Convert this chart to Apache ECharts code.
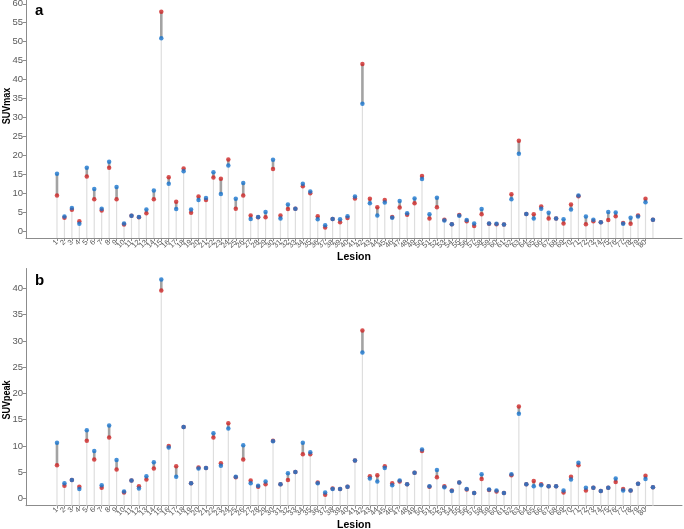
<!DOCTYPE html>
<html>
<head>
<meta charset="utf-8">
<script src="https://cdn.jsdelivr.net/npm/echarts@6/dist/echarts.min.js"></script>
<style>html,body{margin:0;padding:0;background:#fff;}#c{width:684px;height:529px;}</style>
</head>
<body>
<div id="c"></div>
<script>
var lesions = ['1','2','3','4','5','6','7','8','9','10','11','12','13','14','15','16','17','18','19','20','21','22','23','24','25','26','27','28','29','30','31','32','33','34','35','36','37','38','39','40','41','42','43','44','45','46','47','48','49','50','51','52','53','54','55','56','57','58','59','60','61','62','63','64','65','66','67','68','69','70','71','72','73','74','75','76','77','78','79','80','81'];

var suvmaxRed = [9.4,3.5,5.6,2.6,14.4,8.4,5.4,16.7,8.4,1.7,4.0,3.6,4.7,8.4,57.9,14.2,7.7,16.5,4.8,9.1,8.2,14.1,13.8,18.9,5.9,9.4,4.1,3.6,3.6,16.4,4.1,5.8,5.9,11.8,10.0,3.9,0.9,3.2,2.3,3.4,8.6,44.1,8.5,6.3,8.2,3.7,6.2,4.3,7.3,14.5,3.3,6.3,3.0,1.8,4.2,2.6,1.3,4.4,1.9,1.8,1.7,9.7,23.8,4.5,4.4,6.5,3.3,3.3,2.0,7.0,9.2,1.8,2.6,2.3,2.9,3.9,2.1,1.9,4.1,8.5,3.0];
var suvmaxBlue = [15.1,3.8,6.1,1.9,16.7,11.1,5.9,18.3,11.6,2.0,4.0,3.7,5.7,10.7,50.9,12.5,5.8,15.8,5.7,8.2,8.7,15.5,9.8,17.3,8.5,12.7,3.2,3.7,5.0,18.8,3.3,7.0,5.9,12.5,10.4,3.1,1.5,3.2,3.1,3.9,9.1,33.6,7.3,4.1,7.5,3.5,7.9,4.7,8.6,13.7,4.4,8.8,2.8,1.8,4.0,2.9,2.0,5.8,2.0,1.9,1.7,8.4,20.4,4.5,3.3,5.9,4.8,3.3,3.1,5.7,9.4,3.8,3.0,2.3,5.0,4.9,1.9,3.5,3.8,7.6,3.0];

var suvpeakRed = [6.3,2.4,3.5,2.2,11.0,7.4,2.0,11.6,5.5,1.1,3.4,2.3,3.6,5.7,39.6,10.0,6.1,13.6,2.9,5.9,5.8,11.6,6.7,14.3,4.0,7.4,3.4,2.2,2.7,11.0,2.7,3.5,5.0,8.4,8.4,3.0,0.7,1.9,1.8,2.2,7.2,32.0,4.2,4.4,6.1,2.9,3.2,2.7,4.9,9.0,2.2,4.0,2.3,1.5,3.0,1.7,1.0,3.7,1.6,1.3,1.0,4.4,17.5,2.7,3.3,2.7,2.3,2.3,1.1,4.1,6.3,1.5,2.0,1.4,2.0,3.1,1.8,1.5,2.8,4.3,2.1];
var suvpeakBlue = [10.6,2.9,3.5,1.8,13.0,9.0,2.5,13.9,7.3,1.3,3.4,1.9,4.2,6.9,41.7,9.7,4.1,13.6,2.9,5.7,5.8,12.4,6.2,13.3,4.1,10.1,2.9,2.4,3.2,10.9,2.7,4.8,5.0,10.6,8.8,2.9,1.1,1.8,1.8,2.2,7.2,27.8,3.8,3.2,5.8,2.5,3.4,2.7,4.9,9.3,2.3,5.4,2.1,1.4,3.0,1.8,1.0,4.6,1.7,1.5,1.0,4.6,16.1,2.7,2.3,2.5,2.3,2.3,1.5,3.6,6.8,2.0,2.0,1.4,2.0,3.8,1.5,1.5,2.8,3.7,2.1];

var yTicksA = [0,5,10,15,20,25,30,35,40,45,50,55,60];
var yTicksB = [0,5,10,15,20,25,30,35,40];

var RED = '#CD2626', BLUE = '#1874CD';
var Y_A = [-1.85, 61];
var Y_B = [-1.4, 43.8];
var X_RANGE = [-3.16, 84.9];
var xIdx = lesions.map(function(_, i){ return i + 1; });

function pairs(a, b){
  return a.map(function(v, i){ return [i + 1, Math.min(v, b[i]), Math.max(v, b[i])]; });
}
function pts(a){ return a.map(function(v, i){ return [i + 1, v]; }); }

function makeRender(axisMin){
  return function(params, api){
    var x = api.value(0), lo = api.value(1), hi = api.value(2);
    var pB = api.coord([x, axisMin]), pL = api.coord([x, lo]), pH = api.coord([x, hi]);
    return {type:'group', children:[
      {type:'line', shape:{x1:pB[0], y1:pB[1], x2:pH[0], y2:pH[1]}, style:{stroke:'#dedede', lineWidth:1.2}},
      {type:'line', shape:{x1:pL[0], y1:pL[1], x2:pH[0], y2:pH[1]}, style:{stroke:'#a3a3a3', lineWidth:2.6}}
    ]};
  };
}

var axisGrey = '#8c8c8c';
var labelGrey = '#595959';
var FONT = 'Liberation Sans';

function xAxis(gi){
  return {
    type:'value', gridIndex:gi, min:X_RANGE[0], max:X_RANGE[1],
    name:'Lesion', nameLocation:'middle', nameGap:13.5, nameMoveOverlap:false,
    nameTextStyle:{fontFamily:FONT, fontWeight:'bold', fontSize:10.5, color:'#000'},
    axisLine:{show:true, onZero:false, lineStyle:{color:axisGrey, width:1}},
    axisTick:{show:true, length:3, customValues:xIdx, lineStyle:{color:axisGrey}},
    axisLabel:{show:true, customValues:xIdx, rotate:45, fontSize:7.5, margin:3, color:labelGrey, fontFamily:FONT, hideOverlap:false,
      formatter:function(v){ return lesions[Math.round(v) - 1] || ''; }},
    splitLine:{show:false}
  };
}
function yAxis(gi, range, ticks){
  return {
    type:'value', gridIndex:gi, min:range[0], max:range[1],
    axisLine:{show:true, onZero:false, lineStyle:{color:axisGrey, width:1}},
    axisTick:{show:true, length:3, customValues:ticks, lineStyle:{color:axisGrey}},
    axisLabel:{show:true, customValues:ticks, fontSize:9.5, margin:3, color:labelGrey, fontFamily:FONT},
    splitLine:{show:false}
  };
}

var chart = echarts.init(document.getElementById('c'), null, {renderer:'canvas'});
chart.setOption({
  animation:false,
  backgroundColor:'#ffffff',
  grid:[
    {left:26, right:2, top:0, height:238, containLabel:false, outerBoundsMode:'none'},
    {left:26, right:2, top:268.5, height:237.2, containLabel:false, outerBoundsMode:'none'}
  ],
  xAxis:[xAxis(0), xAxis(1)],
  yAxis:[yAxis(0, Y_A, yTicksA), yAxis(1, Y_B, yTicksB)],
  graphic:[
    {type:'text', left:35, top:3, style:{text:'a', font:'bold 15px Liberation Sans', fill:'#000'}},
    {type:'text', left:35, top:273, style:{text:'b', font:'bold 15px Liberation Sans', fill:'#000'}},
    {type:'text', x:7, y:106, rotation:Math.PI/2, scaleX:0.78,
      style:{text:'SUVmax', font:'bold 11.5px Liberation Sans', fill:'#000', textAlign:'center', textVerticalAlign:'middle'}},
    {type:'text', x:7, y:400, rotation:Math.PI/2, scaleX:0.78,
      style:{text:'SUVpeak', font:'bold 11.5px Liberation Sans', fill:'#000', textAlign:'center', textVerticalAlign:'middle'}}
  ],
  series:[
    {type:'custom', xAxisIndex:0, yAxisIndex:0, renderItem:makeRender(Y_A[0]), data:pairs(suvmaxRed, suvmaxBlue), z:1, silent:true},
    {type:'scatter', xAxisIndex:0, yAxisIndex:0, data:pts(suvmaxRed), symbolSize:4.5, itemStyle:{color:RED}, z:3},
    {type:'scatter', xAxisIndex:0, yAxisIndex:0, data:pts(suvmaxBlue), symbolSize:4.5, itemStyle:{color:BLUE}, z:4},
    {type:'custom', xAxisIndex:1, yAxisIndex:1, renderItem:makeRender(Y_B[0]), data:pairs(suvpeakRed, suvpeakBlue), z:1, silent:true},
    {type:'scatter', xAxisIndex:1, yAxisIndex:1, data:pts(suvpeakRed), symbolSize:4.5, itemStyle:{color:RED}, z:3},
    {type:'scatter', xAxisIndex:1, yAxisIndex:1, data:pts(suvpeakBlue), symbolSize:4.5, itemStyle:{color:BLUE}, z:4}
  ]
});
</script>
</body>
</html>
